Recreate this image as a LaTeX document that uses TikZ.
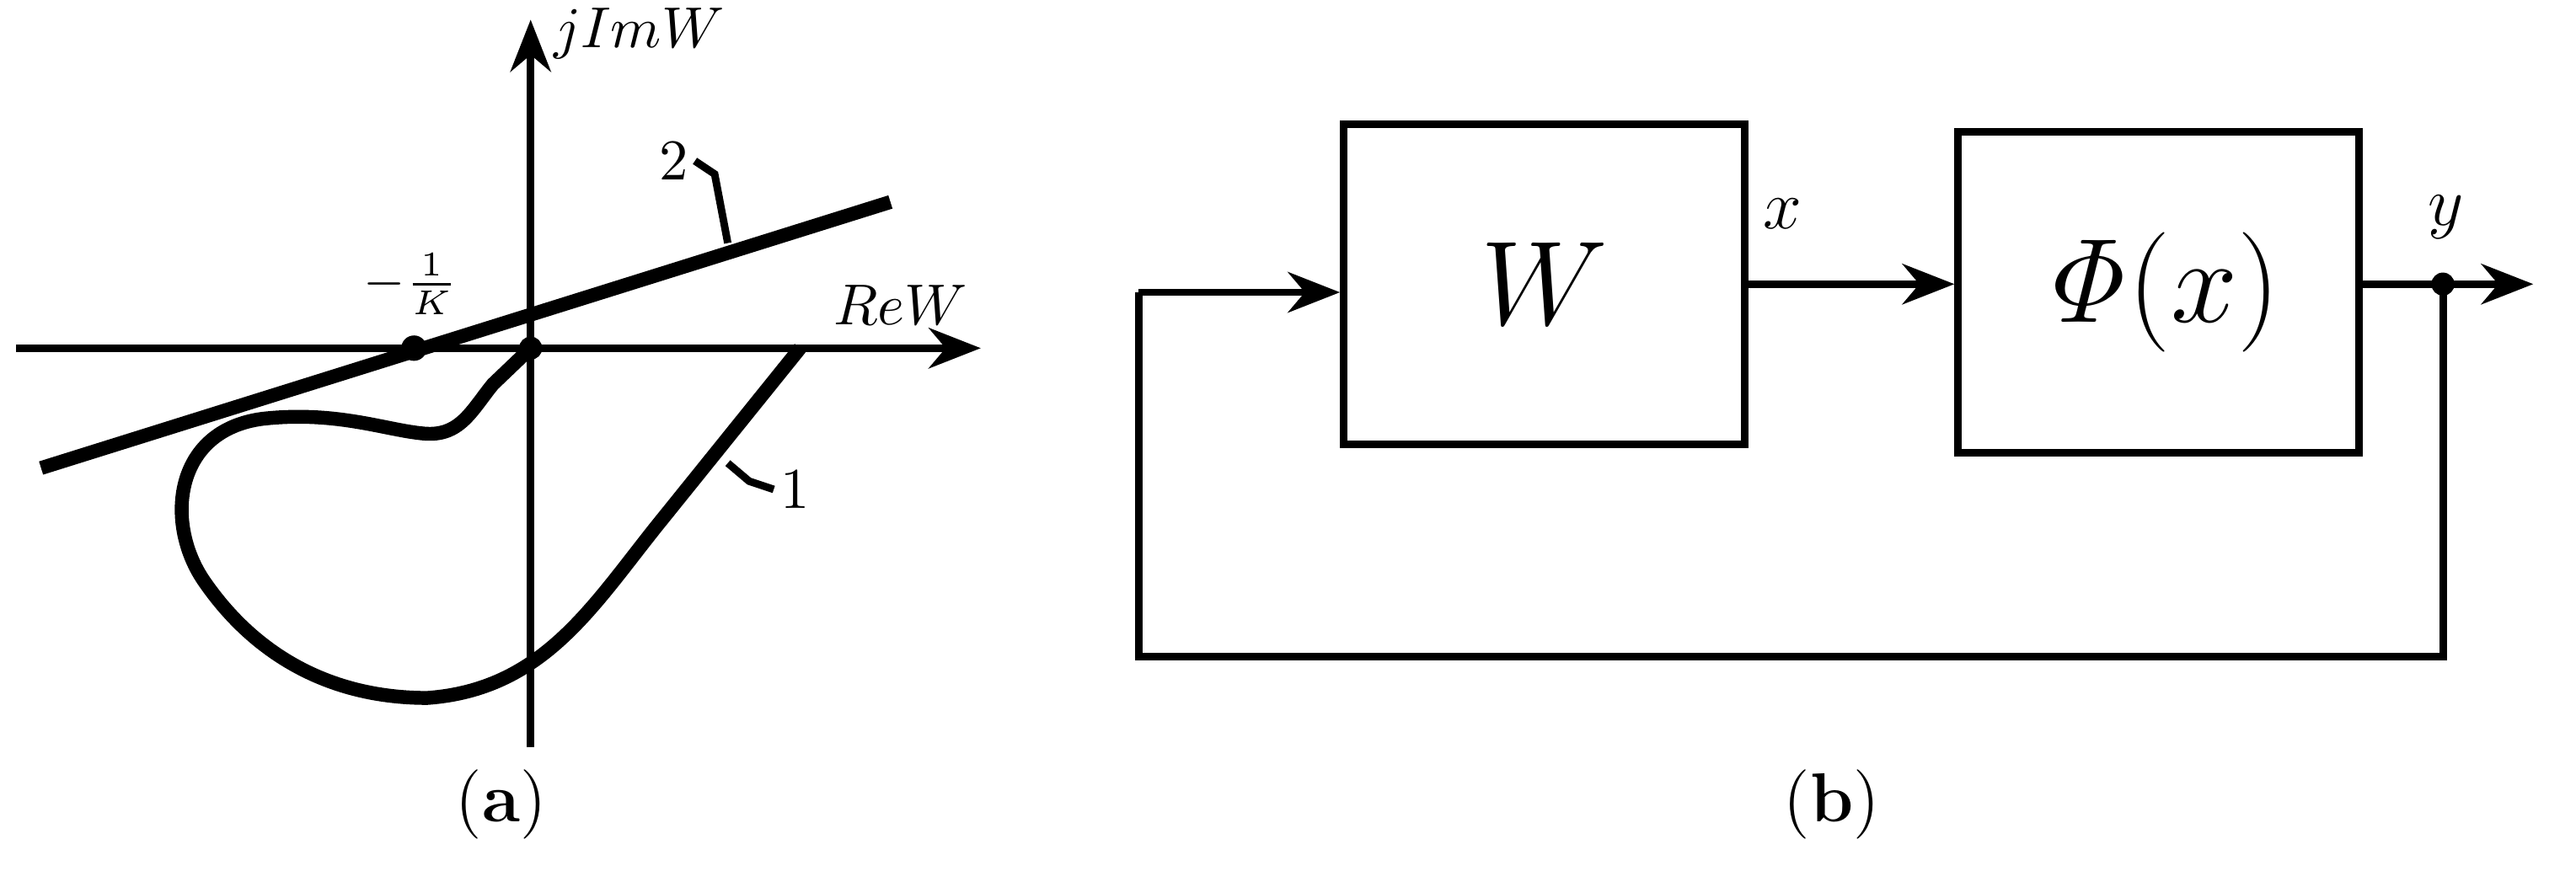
\documentclass[tikz,border=0pt]{standalone}
\usepackage{amsmath}
\usetikzlibrary{arrows.meta}
\begin{document}
\begin{tikzpicture}[x=0.01cm,y=-0.01cm,
  ln/.style={line width=1.3pt},
  thick2/.style={line width=2.4pt},
  arr/.style={ln,-{Stealth[length=9pt,width=7pt]}},
  box/.style={draw,line width=1.3pt,minimum width=2.44cm,minimum height=1.95cm,inner sep=0pt},
  lbl/.style={inner sep=1pt,font=\fontsize{10}{12}\selectfont}]
\useasboundingbox (0,0) rectangle (1568,540);
% ---- (a) ----
\coordinate (xa0) at (10,212); \coordinate (xa1) at (597,212);
\coordinate (ya0) at (323,455); \coordinate (ya1) at (323,12);
\draw[arr] (xa0) -- (xa1);
\draw[arr] (ya0) -- (ya1);
\node[lbl,anchor=south west] (jim) at (333,40) {$jImW$};
\node[lbl,anchor=south] (rew) at (548,202) {$ReW$};
\coordinate (l2a) at (25,285); \coordinate (l2b) at (542,123);
\draw[thick2] (l2a) -- (l2b);
\node[lbl,font=\fontsize{9}{10}\selectfont,anchor=south] (mk) at (250,196) {$-\tfrac{1}{K}$};
\fill (252,212) circle (2.2pt);
\fill (323,212) circle (2pt);
\node[lbl] (n2) at (410,98) {2};
\coordinate (t2) at (443,148);
\draw[ln] (n2.east) -- ++(12,8) -- (t2);
\draw[thick2,line join=round] (323,212) -- (300,234) .. controls (287,250) and (280,266) .. (258,264)
  .. controls (235,262) and (205,250) .. (160,255)
  .. controls (105,262) and (100,320) .. (125,355)
  .. controls (155,398) and (200,425) .. (260,425)
  .. controls (330,420) and (360,370) .. (400,320)
  -- (487,212);
\node[lbl] (n1) at (484,298) {1};
\coordinate (t1) at (443,282);
\draw[ln] (n1.west) -- ++(-15,-5) -- (t1);
\node[font=\fontsize{12}{14}\selectfont] (capa) at (305,490) {(\textbf{a})};
% ---- (b) ----
\node[box] (W) at (940,173) {\fontsize{22}{26}\selectfont$W$};
\node[box] (P) at (1314,178) {\fontsize{22}{26}\selectfont$\mathit{\Phi}(x)$};
\draw[arr] (W.east) -- (P.west |- W.east);
\node[lbl,font=\fontsize{12}{14}\selectfont] (xl) at (1085,130) {$x$};
\coordinate (dot) at (1487,173);
\coordinate (out) at (1542,173);
\draw[ln] (P.east |- dot) -- (dot);
\draw[arr] (dot) -- (out);
\fill (dot) circle (2pt);
\node[lbl,font=\fontsize{12}{14}\selectfont] (yl) at (1489,132) {$y$};
\coordinate (fb1) at (1487,400); \coordinate (fb2) at (693,400); \coordinate (fb3) at (693,178);
\draw[ln] (dot) -- (fb1) -- (fb2) -- (fb3);
\draw[arr] (fb3) -- (W.west |- fb3);
\node[font=\fontsize{12}{14}\selectfont] (capb) at (1115,490) {(\textbf{b})};
\end{tikzpicture}
\end{document}
